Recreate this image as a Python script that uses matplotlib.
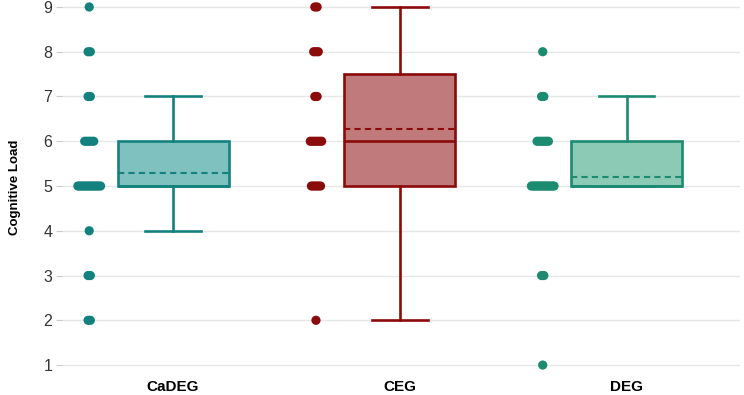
import numpy as np
import matplotlib
matplotlib.use("Agg")
import matplotlib.pyplot as plt

plt.rcParams['font.family'] = ['Liberation Sans', 'DejaVu Sans']

groups = ['CaDEG', 'CEG', 'DEG']
colors = ['#13827f', '#8b0a0a', '#1c8b6f']
fills = ['#7fc1bf', '#c07a7b', '#8ccab5']

# score -> number of participants
cadeg_counts = {2: 2, 3: 2, 4: 1, 5: 13, 6: 5, 7: 2, 8: 2, 9: 1}
ceg_counts = {2: 1, 5: 5, 6: 6, 7: 2, 8: 3, 9: 2}
deg_counts = {1: 1, 3: 2, 5: 14, 6: 6, 7: 2, 8: 1}

def expand(counts):
    vals = []
    for v, c in counts.items():
        vals += [v] * c
    return np.array(vals, dtype=float)

data = [expand(cadeg_counts), expand(ceg_counts), expand(deg_counts)]
counts_list = [cadeg_counts, ceg_counts, deg_counts]

fig = plt.figure(figsize=(7.44, 3.95), dpi=100)
ax = fig.add_axes([62 / 744, 21 / 395, 678 / 744, 374 / 395])

for i in range(3):
    bp = ax.boxplot(data[i], positions=[i], widths=0.49, whis=1.5,
                    patch_artist=True, showfliers=False, showmeans=True,
                    meanline=True, capwidths=0.245,
                    boxprops=dict(facecolor=fills[i], edgecolor=colors[i], linewidth=1.9),
                    medianprops=dict(color=colors[i], linewidth=1.9),
                    meanprops=dict(color=colors[i], linewidth=1.5, linestyle=(0, (3, 2))),
                    whiskerprops=dict(color=colors[i], linewidth=1.9),
                    capprops=dict(color=colors[i], linewidth=1.9))
    # all points, spread a little sideways to the left of the box
    for v, c in counts_list[i].items():
        s = min(0.05, 0.005 * (c - 1))
        xs = i - 0.37 + np.linspace(-s, s, c)
        ax.scatter(xs, [v] * c, s=44, color=colors[i], edgecolors='none', zorder=3)

ax.set_xlim(-0.49, 2.5)
ax.set_ylim(0.80, 9.156)
ax.set_yticks(range(1, 10))
ax.set_xticks([0, 1, 2])
ax.set_xticklabels(groups, fontsize=11, fontweight='bold')
ax.tick_params(axis='x', length=0, pad=4)
ax.tick_params(axis='y', length=4, color='#cccccc', labelsize=11.5, labelcolor='#333333', pad=3)
ax.yaxis.grid(True, color='#e6e6e6', linewidth=1)
ax.set_axisbelow(True)
for sp in ax.spines.values():
    sp.set_visible(False)
ax.set_ylabel('Cognitive Load', fontsize=9.5, fontweight='bold')
ax.yaxis.set_label_coords(-0.06, 0.5)

fig.savefig('out.png', dpi=100)
